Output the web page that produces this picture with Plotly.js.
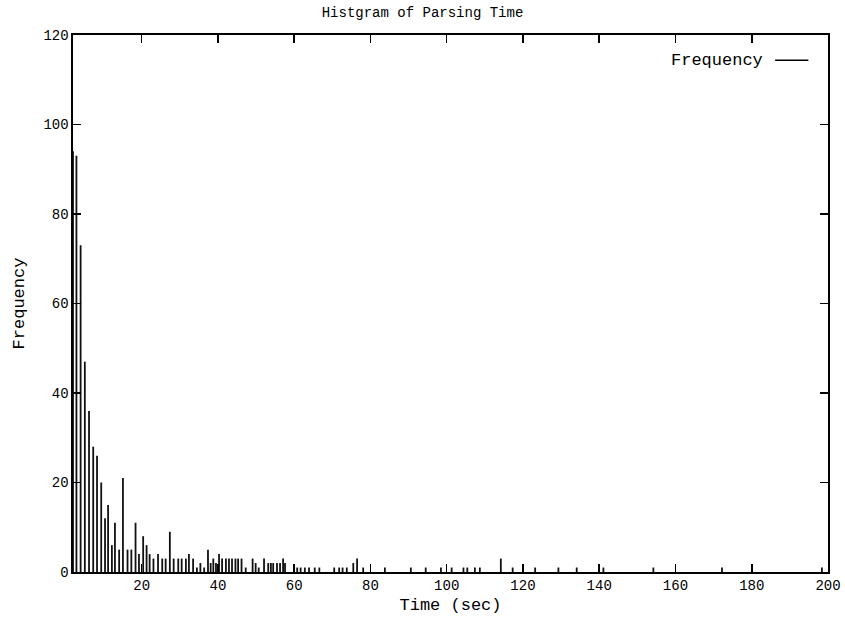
<!DOCTYPE html>
<html>
<head>
<meta charset="utf-8">
<script src="https://cdn.plot.ly/plotly-3.0.1.min.js"></script>
<style>html,body{margin:0;padding:0;background:#fff;}#chart{width:845px;height:621px;}</style>
</head>
<body>
<div id="chart"></div>
<script>
// Time bins (sec)
const times = [2.0, 2.9, 4.0, 5.1, 6.2, 7.3, 8.3, 9.4, 10.4, 11.2, 12.2, 13.0, 14.1, 15.1, 16.3, 17.3, 18.4, 19.3, 20.4, 21.3,
  22.1, 23.1, 24.3, 25.4, 26.3, 27.4, 28.4, 29.6, 30.5, 31.6, 32.4, 33.5, 34.5, 35.4, 36.4, 37.4, 38.1, 38.8, 39.5, 40.3,
  41.1, 42.1, 42.9, 43.7, 44.6, 45.3, 46.2, 47.3, 49.1, 49.9, 50.7, 52.1, 53.2, 53.9, 54.5, 55.5, 56.3, 57.1, 57.6, 60.8,
  61.7, 62.8, 63.9, 65.4, 66.6, 70.5, 71.8, 72.7, 73.8, 75.5, 76.5, 78.1, 83.8, 90.6, 94.5, 98.5, 101.3, 104.4, 105.4, 107.4,
  108.7, 114.2, 117.3, 123.2, 129.3, 134.1, 141.1, 154.2, 172.2, 198.4];
// Frequency per bin
const freq = [94, 93, 73, 47, 36, 28, 26, 20, 12, 15, 6, 11, 5, 21, 5, 5, 11, 4, 8, 6,
  4, 3, 4, 3, 3, 9, 3, 3, 3, 3, 4, 3, 1, 2, 1, 5, 2, 3, 2, 4,
  3, 3, 3, 3, 3, 3, 3, 1, 3, 2, 1, 3, 2, 2, 2, 2, 2, 3, 2, 1,
  1, 1, 1, 1, 1, 1, 1, 1, 1, 2, 3, 1, 1, 1, 1, 1, 1, 1, 1, 1,
  1, 3, 1, 1, 1, 1, 1, 1, 1, 1];
const xTicks = [20, 40, 60, 80, 100, 120, 140, 160, 180, 200];
const yTicks = [0, 20, 40, 60, 80, 100, 120];

// impulses: vertical line from 0 to value for each bin
const ix = [], iy = [];
for (let i = 0; i < times.length; i++) {
  ix.push(times[i], times[i], null);
  iy.push(0, freq[i], null);
}

const fam = '"Liberation Mono", "DejaVu Sans Mono", monospace';
const font = {family: fam, size: 14, color: '#000'};
const bigFont = {family: fam, size: 17, color: '#000'};

const trace = {
  x: ix, y: iy, type: 'scatter', mode: 'lines',
  line: {color: '#111', width: 1.8},
  name: 'Frequency', showlegend: false, hoverinfo: 'skip'
};

const axisCommon = {
  showline: true, linecolor: '#000', linewidth: 1.6, mirror: 'ticks',
  ticks: 'inside', ticklen: 8, tickwidth: 1.6, tickcolor: '#000',
  showgrid: false, zeroline: false, tickfont: font
};

const layout = {
  width: 845, height: 621,
  margin: {l: 73, r: 17, t: 35, b: 49},
  paper_bgcolor: '#fff', plot_bgcolor: '#fff',
  font: font,
  title: {text: 'Histgram of Parsing Time', font: font,
    xref: 'container', x: 0.5, xanchor: 'center', yref: 'container', y: 0.981, yanchor: 'middle'},
  xaxis: Object.assign({}, axisCommon, {
    range: [2, 200], tickvals: xTicks,
    title: {text: 'Time (sec)', font: bigFont, standoff: 4}
  }),
  yaxis: Object.assign({}, axisCommon, {
    range: [0, 120], tickvals: yTicks,
    title: {text: 'Frequency', font: bigFont, standoff: 14}
  }),
  showlegend: false,
  annotations: [{
    text: 'Frequency', xref: 'paper', yref: 'paper', x: 0.917, y: 0.953,
    xanchor: 'right', yanchor: 'middle', showarrow: false, font: bigFont
  }],
  shapes: [{
    type: 'line', xref: 'paper', yref: 'paper', x0: 0.930, x1: 0.974, y0: 0.953, y1: 0.953,
    line: {color: '#000', width: 1.5}
  }]
};

Plotly.newPlot('chart', [trace], layout, {displayModeBar: false, staticPlot: true});
</script>
</body>
</html>
